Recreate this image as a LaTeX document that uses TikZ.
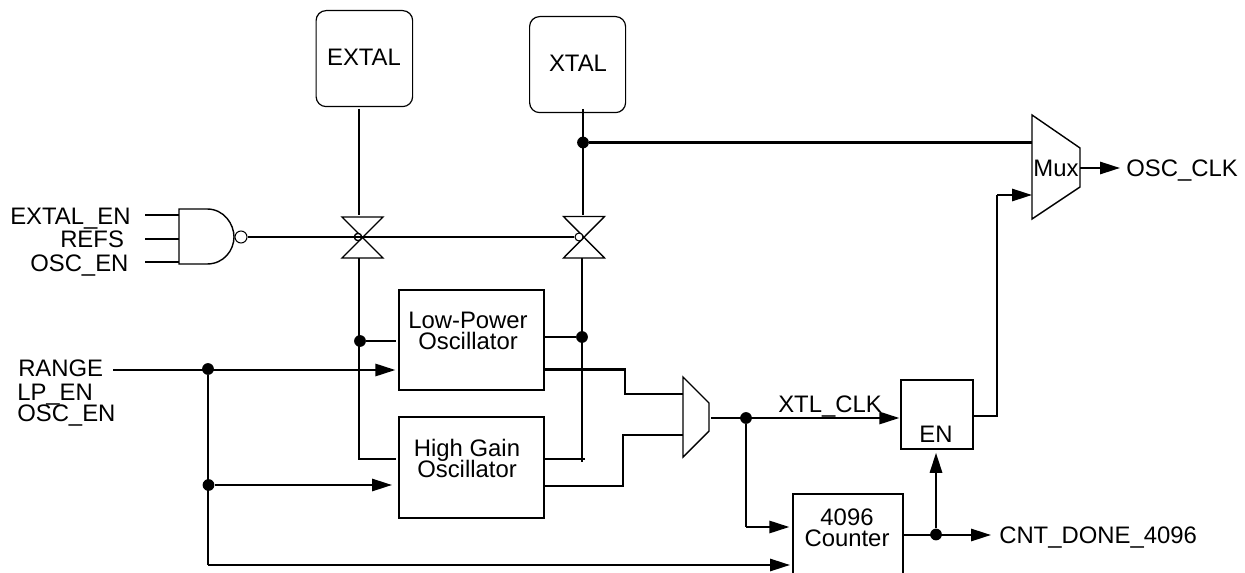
\documentclass[tikz,border=0pt]{standalone}
\usepackage{fontspec}
\setmainfont{Liberation Sans}
\usetikzlibrary{arrows.meta,calc}
\tikzset{
  wire/.style={line width=1.6pt},
  thin shape/.style={line width=1.05pt,line join=miter},
  arr/.style={wire,-{Triangle[length=15pt,width=9.2pt]}},
  box/.style={draw,line width=1.6pt,inner sep=0pt,anchor=north west},
  pad/.style={draw,line width=0.9pt,rounded corners=7.5pt,inner sep=0pt,anchor=north west},
  txt/.style={font=\fontsize{17.9}{17.2}\selectfont,inner sep=0pt,align=center},
  lbl/.style={txt,anchor=base west},
  dot/.style={circle,fill=black,inner sep=0pt,minimum size=8.8pt},
  bub/.style={circle,draw,fill=white,line width=0.8pt,inner sep=0pt,minimum size=#1},
}
\begin{document}
\begin{tikzpicture}[x=0.75pt,y=-0.75pt]
\useasboundingbox (0,0) rectangle (1245,573);
% pads
\node[pad,minimum width=72.4pt,minimum height=72pt] (extal) at (315.5,10) {};
\node[txt] (extaltxt) at (364,57) {EXTAL};
\node[pad,minimum width=72pt,minimum height=72pt] (xtal) at (529,16) {};
\node[txt] (xtaltxt) at (578,63) {XTAL};
% blocks
\node[box,minimum width=108.75pt,minimum height=75pt] (lp) at (398,289) {};
\node[txt] (lptxt) at (468,330.5) {Low-Power\\[-1.5pt]Oscillator};
\node[box,minimum width=108.75pt,minimum height=75.75pt] (hg) at (398,416) {};
\node[txt] (hgtxt) at (467,458.5) {High Gain\\[-1.5pt]Oscillator};
\node[box,minimum width=54pt,minimum height=51.75pt] (en) at (900,379) {};
\node[txt] (entxt) at (936,434) {EN};
\node[box,minimum width=82.5pt,minimum height=69pt] (cnt) at (792,493) {};
\node[txt] (cnttxt) at (847,527.5) {4096\\[-1.5pt]Counter};
% labels
\node[lbl] (l1) at (10,225) {EXTAL\_EN};
\node[lbl] (l2) at (60,248) {REFS};
\node[lbl] (l3) at (30,272) {OSC\_EN};
\node[lbl] (l4) at (18,376) {RANGE};
\node[lbl] (l5) at (17,400) {LP\_EN};
\node[lbl] (l6) at (17,421) {OSC\_EN};
\node[lbl] (l7) at (778,412) {XTL\_CLK};
\node[lbl] (l8) at (1126,177) {OSC\_CLK};
\node[lbl] (l9) at (999,543) {CNT\_DONE\_4096};
\node[txt] (muxtxt) at (1056,168) {Mux};
% NAND gate
\coordinate (ga) at (179,209);
\coordinate (gb) at (179,264);
\draw[thin shape] (ga) -- (207,209) .. controls (224,209) and (234,224) .. (234,237)
  .. controls (234,250) and (224,264) .. (207,264) -- (gb) -- cycle;
\node[bub=9pt] (gbub) at (241,237) {};
\coordinate (i1) at (145,214.6); \coordinate (i2) at (145,238.6); \coordinate (i3) at (145,262);
\draw[wire] (i1) -- (i1 -| ga);
\draw[wire] (i2) -- (i2 -| ga);
\draw[wire] (i3) -- (i3 -| ga);
% transmission gates
\coordinate (t1) at (362.5,237.5);
\coordinate (t2) at (584,237.5);
\draw[thin shape] ($(t1)+(-20.5,-20.5)$) -- ($(t1)+(20.5,-20.5)$) -- ($(t1)+(-20.5,20.5)$) -- ($(t1)+(20.5,20.5)$) -- cycle;
\draw[thin shape] ($(t2)+(-20.5,-21)$) -- ($(t2)+(20.5,-21)$) -- ($(t2)+(-20.5,20.5)$) -- ($(t2)+(20.5,20.5)$) -- cycle;
\node[bub=5.5pt] (b1) at (358,237) {};
\node[bub=6pt] (b2) at (579,237) {};
\draw[wire] (gbub.east) -- (b2.west);
\node[bub=5.5pt,fill=none] at (358,237) {};
% vertical pad wires
\coordinate (v1s) at (359,109);
\coordinate (v2s) at (583,109);
\coordinate (v1t) at (359,215);
\coordinate (v1b) at (359,258);
\coordinate (v2t) at (583,215);
\coordinate (v2b) at (582,258);
\draw[wire] (v1s) -- (v1t);
\draw[wire] (v2s) -- (v2t);
\coordinate (c1) at (359,459);
\coordinate (c2) at (582,459);
\draw[wire,shorten >=1.5pt] (v1b) -- (c1) -- (c1 -| hg.west);
\draw[wire,shorten <=-2pt] (c2) -- (v2b);
\draw[wire] (c2) ++(3,0) -- (c2 -| hg.east);
\node[dot] (d1) at (360,341) {};
\node[dot] (d2) at (582,337) {};
\draw[wire,shorten >=1.5pt] (d1) -- (d1 -| lp.west);
\draw[wire] (d2) -- (d2 -| lp.east);
% top wire to mux
\node[dot] (d3) at (583,142.5) {};
\coordinate (mt) at (1032,115); \coordinate (mb) at (1032,219);
\coordinate (mr1) at (1080,148); \coordinate (mr2) at (1080,187);
\draw[thin shape] (mt) -- (mr1) -- (mr2) -- (mb) -- cycle;
\draw[wire] (d3) -- (d3 -| mt);
% range
\coordinate (r0) at (113,370);
\node[dot] (d4) at (208,369) {};
\node[dot] (d5) at (208.5,485) {};
\coordinate (bot) at (208,565);
\draw[wire] (r0) -- (d4 |- r0);
\draw[arr,shorten >=2pt] (d4 |- r0) -- (r0 -| lp.west);
\draw[wire] (d4) -- (bot);
\draw[arr,shorten >=4.5pt] (d5) -- (d5 -| hg.west);
\draw[arr,shorten >=1.5pt] (bot) -- (bot -| cnt.west);
% small mux
\coordinate (st) at (683,377); \coordinate (sb) at (683,457);
\coordinate (sr1) at (709,403); \coordinate (sr2) at (709,431);
\draw[thin shape] (st) -- (sr1) -- (sr2) -- (sb) -- cycle;
\coordinate (a1) at (625,369.5); \coordinate (a2) at (625,394);
\coordinate (a3) at (623,486); \coordinate (a4) at (623,435);
\draw[wire] (a1 -| lp.east) -- (a1) -- (a2) -- (a2 -| st);
\draw[wire] (a3 -| hg.east) -- (a3) -- (a4) -- (a4 -| st);
% XTL_CLK
\coordinate (o0) at (711,418);
\node[dot] (d6) at (746,418) {};
\coordinate (o1) at (746,527);
\draw[arr,shorten >=0.5pt] (o0) -- (o0 -| en.west);
\draw[wire] (d6) -- (o1);
\draw[arr,shorten >=2pt] (o1) -- (o1 -| cnt.west);
% EN output
\coordinate (e0) at (997,416); \coordinate (e1) at (997,195);
\draw[wire] (e0 -| en.east) -- (e0) -- (e1);
\draw[arr] (e1) -- (e1 -| mt);
% mux output
\coordinate (m0) at (1080,168); \coordinate (m1) at (1120,168);
\draw[arr] (m0) -- (m1);
% counter output
\node[dot] (d7) at (936,534.5) {};
\coordinate (c3) at (991,535);
\draw[arr] (c3 -| cnt.east) -- (c3);
\draw[arr,shorten >=2pt] (d7) -- (en.south -| d7);
\end{tikzpicture}
\end{document}
